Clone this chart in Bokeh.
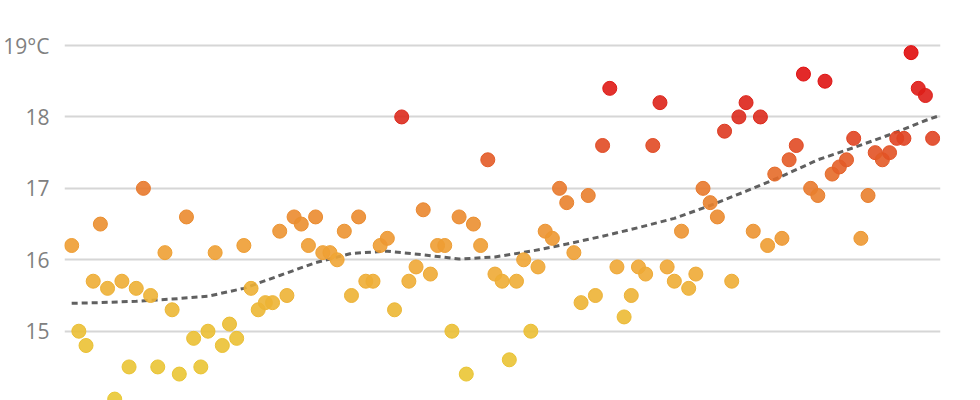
from bokeh.plotting import figure
from bokeh.models import ColumnDataSource, LinearColorMapper, FixedTicker, Range1d
from bokeh.embed import file_html
from bokeh.resources import INLINE
from bokeh.transform import transform

# ---- data ----
years = list(range(1901, 2022))
temps = [
    16.2, 15.0, 14.8, 15.7, 16.5, 15.6, 14.05, 15.7, 14.5, 15.6,   # 1901-1910
    17.0, 15.5, 14.5, 16.1, 15.3, 14.4, 16.6, 14.9, 14.5, 15.0,    # 1911-1920
    16.1, 14.8, 15.1, 14.9, 16.2, 15.6, 15.3, 15.4, 15.4, 16.4,    # 1921-1930
    15.5, 16.6, 16.5, 16.2, 16.6, 16.1, 16.1, 16.0, 16.4, 15.5,    # 1931-1940
    16.6, 15.7, 15.7, 16.2, 16.3, 15.3, 18.0, 15.7, 15.9, 16.7,    # 1941-1950
    15.8, 16.2, 16.2, 15.0, 16.6, 14.4, 16.5, 16.2, 17.4, 15.8,    # 1951-1960
    15.7, 14.6, 15.7, 16.0, 15.0, 15.9, 16.4, 16.3, 17.0, 16.8,    # 1961-1970
    16.1, 15.4, 16.9, 15.5, 17.6, 18.4, 15.9, 15.2, 15.5, 15.9,    # 1971-1980
    15.8, 17.6, 18.2, 15.9, 15.7, 16.4, 15.6, 15.8, 17.0, 16.8,    # 1981-1990
    16.6, 17.8, 15.7, 18.0, 18.2, 16.4, 18.0, 16.2, 17.2, 16.3,    # 1991-2000
    17.4, 17.6, 18.6, 17.0, 16.9, 18.5, 17.2, 17.3, 17.4, 17.7,    # 2001-2010
    16.3, 16.9, 17.5, 17.4, 17.5, 17.7, 17.7, 18.9, 18.4, 18.3,    # 2011-2020
    17.7,                                                          # 2021
]
trend_years = [1901, 1905, 1910, 1915, 1920, 1925, 1930, 1935, 1940, 1945,
               1950, 1955, 1960, 1965, 1970, 1975, 1980, 1985, 1990, 1995,
               2000, 2005, 2010, 2015, 2020, 2022]
trend_vals = [15.39, 15.40, 15.42, 15.45, 15.49, 15.60, 15.78, 15.96, 16.09, 16.12,
              16.07, 16.01, 16.04, 16.12, 16.22, 16.33, 16.45, 16.58, 16.76, 16.96,
              17.17, 17.40, 17.57, 17.75, 17.95, 18.02]
tick_values = [14, 15, 16, 17, 18, 19]
tick_labels = ["14", "15", "16", "17", "18", "19°C"]

# ---- colour scale (style) ----
stops = [(14.0, "#e9c934"), (15.0, "#ebbf34"), (16.0, "#efa535"),
         (17.0, "#e87a2c"), (18.0, "#dc2c1e"), (18.6, "#e01212"), (19.0, "#e00a0a")]


def _rgb(h):
    h = h.lstrip("#")
    return [int(h[i:i + 2], 16) for i in (0, 2, 4)]


palette = []
N = 200
lo, hi = stops[0][0], stops[-1][0]
for k in range(N):
    v = lo + (hi - lo) * k / (N - 1)
    for (a, ca), (b, cb) in zip(stops[:-1], stops[1:]):
        if a <= v <= b:
            t = (v - a) / (b - a)
            r1, r2 = _rgb(ca), _rgb(cb)
            c = [round(r1[i] + (r2[i] - r1[i]) * t) for i in range(3)]
            palette.append("#%02x%02x%02x" % tuple(c))
            break

mapper = LinearColorMapper(palette=palette, low=lo, high=hi)

src = ColumnDataSource(dict(year=years, temp=temps))

p = figure(width=960, height=400, output_backend="svg", toolbar_location=None,
           x_range=Range1d(1900.0, 2022.1), y_range=Range1d(14.03, 19.63),
           min_border_left=62, min_border_right=20, min_border_top=0, min_border_bottom=0)
p.outline_line_color = None
p.background_fill_color = "white"
p.border_fill_color = "white"

p.xaxis.visible = False
p.xgrid.visible = False

p.yaxis.ticker = FixedTicker(ticks=tick_values)
p.yaxis.major_label_overrides = {v: l for v, l in zip(tick_values, tick_labels)}
p.yaxis.axis_line_color = None
p.yaxis.major_tick_line_color = None
p.yaxis.minor_tick_line_color = None
p.yaxis.major_label_standoff = 9
p.yaxis.major_label_text_font = "Open Sans"
p.yaxis.major_label_text_font_size = "21px"
p.yaxis.major_label_text_color = "#808080"

p.ygrid.ticker = FixedTicker(ticks=tick_values)
p.ygrid.grid_line_color = "#d6d6d6"
p.ygrid.grid_line_width = 2

p.line(trend_years, trend_vals, line_dash="6 4", line_width=3, line_color="#606060")

p.scatter("year", "temp", source=src, size=14,
          fill_color=transform("temp", mapper), fill_alpha=0.9,
          line_color=transform("temp", mapper), line_width=1)

open("out.html", "w").write(file_html(p, INLINE))
